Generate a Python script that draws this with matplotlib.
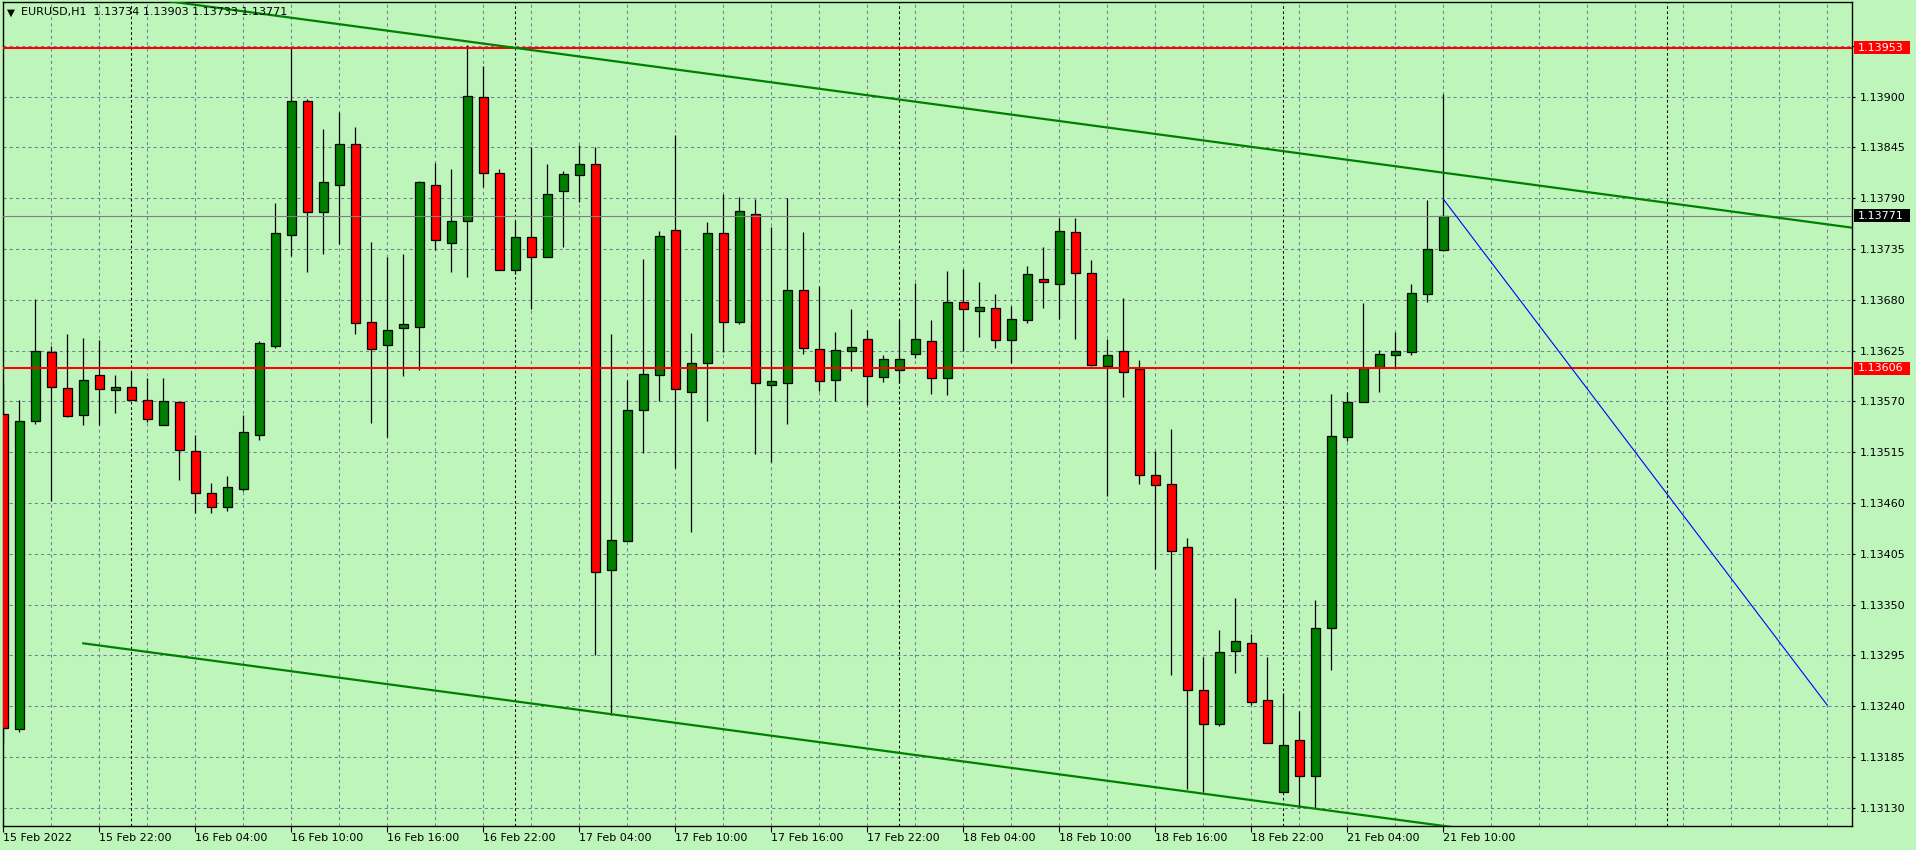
import numpy as np
import matplotlib
matplotlib.use("Agg")
import matplotlib.pyplot as plt
from matplotlib.patches import Rectangle

# ---- EURUSD H1 candles, 15 Feb 16:00 .. 21 Feb 10:00 (bar index = position) ----
opens = [1.13556, 1.13215, 1.13549, 1.13623, 1.13584, 1.13555, 1.13598, 1.13582, 1.13585, 1.13572,
         1.13544, 1.13569, 1.13516, 1.13471, 1.13456, 1.13475, 1.13534, 1.13630, 1.13750, 1.13895,
         1.13775, 1.13804, 1.13849, 1.13656, 1.13631, 1.13649, 1.13651, 1.13804, 1.13741, 1.13765,
         1.13900, 1.13817, 1.13712, 1.13748, 1.13726, 1.13798, 1.13815, 1.13827, 1.13387, 1.13419,
         1.13561, 1.13598, 1.13755, 1.13580, 1.13612, 1.13752, 1.13656, 1.13773, 1.13588, 1.13590,
         1.13691, 1.13627, 1.13593, 1.13625, 1.13637, 1.13596, 1.13604, 1.13621, 1.13635, 1.13595,
         1.13678, 1.13668, 1.13671, 1.13636, 1.13658, 1.13703, 1.13697, 1.13753, 1.13709, 1.13608,
         1.13624, 1.13605, 1.13490, 1.13480, 1.13412, 1.13257, 1.13221, 1.13300, 1.13308, 1.13247,
         1.13147, 1.13203, 1.13164, 1.13325, 1.13531, 1.13569, 1.13607, 1.13620, 1.13623, 1.13686,
         1.13734]
highs = [1.13590, 1.13572, 1.13681, 1.13630, 1.13643, 1.13639, 1.13636, 1.13598, 1.13602, 1.13595,
         1.13595, 1.13569, 1.13534, 1.13482, 1.13489, 1.13555, 1.13635, 1.13785, 1.13954, 1.13897,
         1.13865, 1.13883, 1.13867, 1.13742, 1.13726, 1.13730, 1.13809, 1.13828, 1.13822, 1.13956,
         1.13933, 1.13822, 1.13765, 1.13845, 1.13827, 1.13819, 1.13848, 1.13845, 1.13643, 1.13593,
         1.13724, 1.13754, 1.13858, 1.13644, 1.13764, 1.13794, 1.13791, 1.13789, 1.13759, 1.13790,
         1.13753, 1.13695, 1.13645, 1.13670, 1.13647, 1.13620, 1.13658, 1.13698, 1.13658, 1.13711,
         1.13713, 1.13699, 1.13686, 1.13673, 1.13717, 1.13737, 1.13769, 1.13768, 1.13723, 1.13637,
         1.13682, 1.13615, 1.13516, 1.13540, 1.13422, 1.13293, 1.13322, 1.13357, 1.13318, 1.13293,
         1.13254, 1.13235, 1.13355, 1.13578, 1.13580, 1.13677, 1.13626, 1.13645, 1.13697, 1.13788,
         1.13903]
lows = [1.13200, 1.13212, 1.13545, 1.13462, 1.13553, 1.13544, 1.13544, 1.13557, 1.13572, 1.13548,
        1.13544, 1.13485, 1.13449, 1.13449, 1.13451, 1.13473, 1.13528, 1.13628, 1.13727, 1.13710,
        1.13730, 1.13740, 1.13643, 1.13547, 1.13531, 1.13597, 1.13604, 1.13734, 1.13710, 1.13705,
        1.13802, 1.13712, 1.13708, 1.13670, 1.13726, 1.13737, 1.13786, 1.13295, 1.13230, 1.13419,
        1.13514, 1.13570, 1.13498, 1.13429, 1.13549, 1.13623, 1.13654, 1.13513, 1.13504, 1.13545,
        1.13621, 1.13581, 1.13570, 1.13603, 1.13566, 1.13591, 1.13590, 1.13617, 1.13578, 1.13577,
        1.13625, 1.13640, 1.13628, 1.13611, 1.13655, 1.13671, 1.13659, 1.13638, 1.13608, 1.13468,
        1.13575, 1.13481, 1.13389, 1.13274, 1.13150, 1.13147, 1.13219, 1.13276, 1.13241, 1.13200,
        1.13147, 1.13130, 1.13130, 1.13279, 1.13527, 1.13569, 1.13580, 1.13606, 1.13620, 1.13678,
        1.13733]
closes = [1.13216, 1.13549, 1.13624, 1.13585, 1.13554, 1.13593, 1.13583, 1.13585, 1.13572, 1.13551,
          1.13570, 1.13517, 1.13471, 1.13456, 1.13477, 1.13537, 1.13633, 1.13752, 1.13895, 1.13775,
          1.13808, 1.13849, 1.13655, 1.13627, 1.13647, 1.13654, 1.13807, 1.13745, 1.13765, 1.13901,
          1.13817, 1.13712, 1.13748, 1.13726, 1.13795, 1.13816, 1.13827, 1.13385, 1.13420, 1.13561,
          1.13600, 1.13749, 1.13583, 1.13612, 1.13752, 1.13656, 1.13776, 1.13590, 1.13592, 1.13691,
          1.13628, 1.13592, 1.13626, 1.13629, 1.13597, 1.13616, 1.13616, 1.13637, 1.13595, 1.13678,
          1.13670, 1.13672, 1.13636, 1.13659, 1.13708, 1.13699, 1.13754, 1.13709, 1.13609, 1.13620,
          1.13602, 1.13490, 1.13479, 1.13408, 1.13257, 1.13221, 1.13299, 1.13310, 1.13244, 1.13200,
          1.13198, 1.13164, 1.13325, 1.13533, 1.13569, 1.13606, 1.13621, 1.13625, 1.13687, 1.13735,
          1.13771]

# time axis labels (every 6 bars) and day separators
label_bars = [0, 6, 12, 18, 24, 30, 36, 42, 48, 54, 60, 66, 72, 78, 84, 90]
time_labels = ["15 Feb 2022", "15 Feb 22:00", "16 Feb 04:00", "16 Feb 10:00", "16 Feb 16:00",
               "16 Feb 22:00", "17 Feb 04:00", "17 Feb 10:00", "17 Feb 16:00", "17 Feb 22:00",
               "18 Feb 04:00", "18 Feb 10:00", "18 Feb 16:00", "18 Feb 22:00", "21 Feb 04:00",
               "21 Feb 10:00"]
day_starts = [8, 32, 56, 80, 104]

price_ticks = [1.13130, 1.13185, 1.13240, 1.13295, 1.13350, 1.13405, 1.13460, 1.13515,
               1.13570, 1.13625, 1.13680, 1.13735, 1.13790, 1.13845, 1.13900, 1.13955]

# drawn objects
resistance = 1.13953
support = 1.13606
bid = 1.13771
upper_channel = ([10.0, 116.0], [1.14004, 1.13757])
lower_channel = ([5.0, 91.0], [1.13308, 1.13108])
blue_line = ([90.0, 114.0], [1.13789, 1.13241])

header = "EURUSD,H1  1.13734 1.13903 1.13733 1.13771"

# ---- colours ----
bg = "#bef5bb"
grid_c = "#73828f"
bull = "#008000"
bear = "#ff0000"

W, H = 1916, 850
fig = plt.figure(figsize=(W / 100, H / 100), dpi=100, facecolor=bg)
ax = fig.add_axes([2.7 / W, 24 / H, 1849.8 / W, 824 / H], facecolor=bg)
ax.set_xlim(-0.0375, 115.575)
ax.set_ylim(1.131102, 1.140024)

# grid
for p in price_ticks:
    ax.axhline(p, color=grid_c, lw=0.75, ls=(0, (3, 3)), zorder=1)
for b in range(0, 116, 3):
    ax.axvline(b, color=grid_c, lw=0.75, ls=(0, (3, 3)), zorder=1)
for b in day_starts:
    ax.axvline(b, color="black", lw=0.75, ls=(0, (2.5, 2.5)), zorder=1.5)

# candles
o, h, l, c = map(np.array, (opens, highs, lows, closes))
x = np.arange(len(o))
up = c >= o
ax.vlines(x, l, h, color="black", lw=0.9, zorder=3)
body_lo = np.minimum(o, c)
body_h = np.maximum(np.abs(c - o), 0.00003)
ax.bar(x, body_h, 0.58, bottom=body_lo, color=np.where(up, bull, bear),
       edgecolor="black", linewidth=0.9, zorder=4)

# lines
ax.axhline(resistance, color="#ff0000", lw=1.5, zorder=5)
ax.axhline(support, color="#ff0000", lw=1.5, zorder=5)
ax.axhline(bid, color="#808080", lw=0.8, zorder=5)
ax.plot(*upper_channel, color="#008000", lw=1.6, zorder=6)
ax.plot(*lower_channel, color="#008000", lw=1.6, zorder=6)
ax.plot(*blue_line, color="#0000ff", lw=0.8, zorder=6)

# axes styling
for s in ax.spines.values():
    s.set_color("black")
    s.set_linewidth(1.0)
ax.yaxis.tick_right()
ax.set_yticks(price_ticks)
ax.set_yticklabels([f"{p:.5f}" for p in price_ticks[:-1]] + [""])
ax.tick_params(axis="y", length=2.5, pad=3, labelsize=8, colors="black", left=False)
ax.set_xticks(label_bars)
ax.set_xticklabels(time_labels)
for t in ax.get_xticklabels():
    t.set_horizontalalignment("left")
ax.tick_params(axis="x", length=4, pad=1, labelsize=8, colors="black")

# price tags on the scale
ytr = ax.get_yaxis_transform()
box_h = 13 * (1.140024 - 1.131102) / 824
for level, fc in [(resistance, "#ff0000"), (support, "#ff0000"), (bid, "black")]:
    ax.add_patch(Rectangle((1.0008, level - box_h / 2), 0.0305, box_h, transform=ytr,
                           facecolor=fc, edgecolor="none", clip_on=False, zorder=10))
    ax.text(1.0030, level, f"{level:.5f}", transform=ytr, color="white", fontsize=8,
            va="center", ha="left", clip_on=False, zorder=11)

# header
fig.text(7 / W, 1 - 12.5 / H, "\u25bc", fontsize=7.5, va="center", ha="left", color="black")
fig.text(21 / W, 1 - 12.5 / H, header, fontsize=8, va="center", ha="left", color="black")

fig.savefig("out.png", dpi=100, facecolor=bg)
